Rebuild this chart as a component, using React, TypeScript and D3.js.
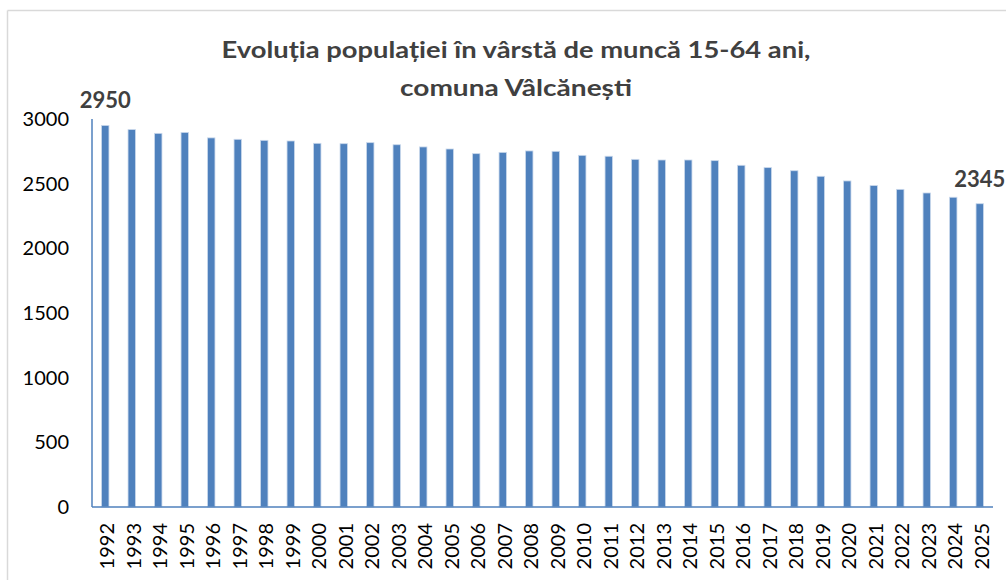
import React from "react";
import * as d3 from "d3";

const years: string[] = [
  "1992","1993","1994","1995","1996","1997","1998","1999","2000","2001","2002",
  "2003","2004","2005","2006","2007","2008","2009","2010","2011","2012","2013",
  "2014","2015","2016","2017","2018","2019","2020","2021","2022","2023","2024","2025",
];
const population: number[] = [
  2950, 2918, 2889, 2896, 2854, 2843, 2835, 2830, 2812, 2809, 2817,
  2801, 2784, 2768, 2732, 2742, 2753, 2750, 2719, 2712, 2688, 2683,
  2683, 2678, 2642, 2624, 2600, 2557, 2521, 2485, 2456, 2428, 2395, 2345,
];
const yTicks: number[] = [0, 500, 1000, 1500, 2000, 2500, 3000];
const labelledIdx: number[] = [0, 33];
const titleLines: string[] = [
  "Evoluția populației în vârstă de muncă 15-64 ani,",
  "comuna Vâlcănești",
];
const titleWidths: number[] = [589, 232];

const W = 1006;
const H = 580;
const left = 92;
const right = 993;
const top = 119;
const bottom = 507;

export default function App() {
  const x = d3.scaleBand<string>().domain(years).range([left, right]).paddingInner(0.72).paddingOuter(0.36);
  const y = d3.scaleLinear().domain([0, 3000]).range([bottom, top]);
  const bw = x.bandwidth();
  const font = "Lato, 'Liberation Sans', Arial, sans-serif";

  return (
    <svg width={W} height={H} style={{ position: "absolute", left: 0, top: 0, background: "#fff" }}
      fontFamily={font}>
      <rect x={0} y={0} width={W} height={H} fill="#fff" />
      <line x1={7.5} y1={10.5} x2={W} y2={10.5} stroke="#d9d9d9" strokeWidth={1.5} />
      <line x1={7.5} y1={10.5} x2={7.5} y2={H} stroke="#d9d9d9" strokeWidth={1.5} />

      {titleLines.map((t, i) => (
        <text key={t} x={516} y={58 + i * 38} textAnchor="middle" fontWeight="bold"
          fontSize={23} fill="#404040" textLength={titleWidths[i]} lengthAdjust="spacingAndGlyphs">{t}</text>
      ))}

      {yTicks.map((v) => (
        <text key={v} x={69} y={y(v)} dy="0.35em" textAnchor="end" fontSize={20} fill="#000">{v}</text>
      ))}

      {population.map((v, i) => (
        <rect key={years[i]} x={x(years[i])!} y={y(v)} width={bw} height={bottom - y(v)}
          fill="#4F81BD" stroke="#c9d8ec" strokeWidth={0.8} />
      ))}

      <line x1={left} y1={top} x2={left} y2={bottom} stroke="#4F81BD" strokeWidth={1.5} />
      <line x1={left} y1={bottom} x2={right} y2={bottom} stroke="#4F81BD" strokeWidth={1.5} />

      {years.map((yr) => {
        const cx = x(yr)! + bw / 2 + 2;
        return (
          <text key={yr} transform={`translate(${cx},523) rotate(-90)`} dy="0.35em" textAnchor="end"
            fontSize={20} fill="#000">{yr}</text>
        );
      })}

      {labelledIdx.map((i) => (
        <text key={i} x={x(years[i])! + bw / 2} y={y(population[i]) - 17} textAnchor="middle"
          fontWeight="bold" fontSize={22} fill="#404040">{population[i]}</text>
      ))}
    </svg>
  );
}
